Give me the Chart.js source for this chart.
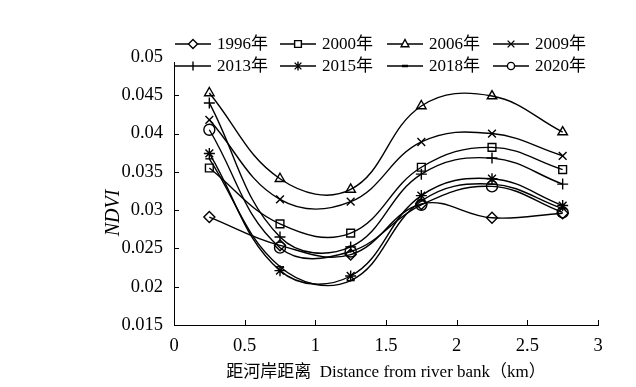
<!DOCTYPE html>
<html>
<head>
<meta charset="utf-8">
<style>
html,body{margin:0;padding:0;background:#fff;}
#wrap{width:636px;height:387px;position:relative;}
</style>
<script src="https://cdn.jsdelivr.net/npm/chart.js@4/dist/chart.umd.min.js"></script>
</head>
<body>
<div id="wrap"><canvas id="c" width="636" height="387"></canvas></div>
<script>
const distances = [0.25, 0.75, 1.25, 1.75, 2.25, 2.75];
const xTicks = [0, 0.5, 1, 1.5, 2, 2.5, 3];
const xTickLabels = ['0', '0.5', '1', '1.5', '2', '2.5', '3'];
const yTicks = [0.015, 0.02, 0.025, 0.03, 0.035, 0.04, 0.045, 0.05];
const yTickLabels = ['0.015', '0.02', '0.025', '0.03', '0.035', '0.04', '0.045', '0.05'];
const seriesNames = ['1996年', '2000年', '2006年', '2009年', '2013年', '2015年', '2018年', '2020年'];
const v1996 = [0.0291, 0.0254, 0.0242, 0.0308, 0.0290, 0.0296];
const v2000 = [0.0355, 0.0282, 0.0270, 0.0356, 0.0382, 0.0353];
const v2006 = [0.0453, 0.0341, 0.0327, 0.0436, 0.0449, 0.0402];
const v2009 = [0.0418, 0.0314, 0.0311, 0.0389, 0.0400, 0.0371];
const v2013 = [0.0440, 0.0265, 0.0252, 0.0347, 0.0368, 0.0334];
const v2015 = [0.0374, 0.0221, 0.0214, 0.0319, 0.0341, 0.0306];
const v2018 = [0.0367, 0.0226, 0.0208, 0.0312, 0.0334, 0.0302];
const v2020 = [0.0405, 0.0251, 0.0246, 0.0307, 0.0331, 0.0297];
const seriesValues = [v1996, v2000, v2006, v2009, v2013, v2015, v2018, v2020];
const markerStyles = ['rectRot', 'rect', 'triangle', 'crossRot', 'cross', 'star', 'line', 'circle'];
const xTitle = '距河岸距离  Distance from river bank（km）';
const yTitle = 'NDVI';

const FONT = "'Liberation Serif', 'Noto Sans CJK SC', serif";

const datasets = seriesNames.map((name, i) => ({
  label: name,
  data: distances.map((d, j) => ({x: d, y: seriesValues[i][j]})),
  borderColor: '#000',
  borderWidth: 1.4,
  backgroundColor: 'rgba(0,0,0,0)',
  pointStyle: markerStyles[i],
  pointRadius: markerStyles[i] === 'line' ? 4 : 5.5,
  pointBorderColor: '#000',
  pointBackgroundColor: 'rgba(0,0,0,0)',
  pointBorderWidth: 1.4,
  tension: 0.4,
  fill: false
}));

function drawMarker(ctx, style, x, y, r) {
  ctx.save();
  ctx.strokeStyle = '#000';
  ctx.lineWidth = 1.4;
  ctx.beginPath();
  if (style === 'rectRot') {
    ctx.moveTo(x, y - r); ctx.lineTo(x + r, y); ctx.lineTo(x, y + r); ctx.lineTo(x - r, y); ctx.closePath();
    ctx.fillStyle = '#fff'; ctx.fill();
  } else if (style === 'rect') {
    const s = r * 0.75; ctx.rect(x - s, y - s, 2 * s, 2 * s);
    ctx.fillStyle = '#fff'; ctx.fill();
  } else if (style === 'triangle') {
    ctx.moveTo(x, y - r); ctx.lineTo(x + r * 0.87, y + r * 0.6); ctx.lineTo(x - r * 0.87, y + r * 0.6); ctx.closePath();
    ctx.fillStyle = '#fff'; ctx.fill();
  } else if (style === 'crossRot') {
    const s = r * 0.75; ctx.moveTo(x - s, y - s); ctx.lineTo(x + s, y + s); ctx.moveTo(x + s, y - s); ctx.lineTo(x - s, y + s);
  } else if (style === 'cross') {
    ctx.moveTo(x, y - r); ctx.lineTo(x, y + r);
  } else if (style === 'star') {
    const s = r * 0.75; ctx.moveTo(x - s, y - s); ctx.lineTo(x + s, y + s); ctx.moveTo(x + s, y - s); ctx.lineTo(x - s, y + s);
    ctx.moveTo(x, y - r); ctx.lineTo(x, y + r);
  } else if (style === 'line') {
    ctx.lineWidth = 2.5; ctx.moveTo(x - 3, y); ctx.lineTo(x + 3, y);
  } else if (style === 'circle') {
    ctx.arc(x, y, r * 0.8, 0, Math.PI * 2);
    ctx.fillStyle = '#fff'; ctx.fill();
  }
  ctx.stroke();
  ctx.restore();
}

const customDecor = {
  id: 'customDecor',
  afterDraw(chart) {
    const ctx = chart.ctx;
    const xs = chart.scales.x, ys = chart.scales.y;
    const area = chart.chartArea;
    ctx.save();
    // inward ticks
    ctx.strokeStyle = '#000'; ctx.lineWidth = 1;
    ctx.beginPath();
    yTicks.forEach(v => { const py = Math.round(ys.getPixelForValue(v)) + 0.5; ctx.moveTo(area.left, py); ctx.lineTo(area.left + 5, py); });
    xTicks.forEach(v => { const px = Math.round(xs.getPixelForValue(v)) + 0.5; ctx.moveTo(px, area.bottom); ctx.lineTo(px, area.bottom - 5); });
    ctx.stroke();
    // y title
    ctx.save();
    ctx.translate(114, 213);
    ctx.rotate(-Math.PI / 2);
    ctx.font = "italic 20px " + FONT;
    ctx.fillStyle = '#000'; ctx.textAlign = 'center'; ctx.textBaseline = 'middle';
    ctx.fillText(yTitle, 0, 0);
    ctx.restore();
    // legend
    ctx.fillStyle = '#fff';
    ctx.fillRect(area.left - 1, 32, 430, 30);
    const cols = [175, 280, 387, 493];
    const rows = [44, 66];
    ctx.font = "17px " + FONT;
    ctx.textBaseline = 'middle'; ctx.textAlign = 'left';
    seriesNames.forEach((name, i) => {
      const x0 = cols[i % 4], y0 = rows[Math.floor(i / 4)];
      ctx.strokeStyle = '#000'; ctx.lineWidth = 1.4;
      ctx.beginPath(); ctx.moveTo(x0, y0); ctx.lineTo(x0 + 36, y0); ctx.stroke();
      drawMarker(ctx, markerStyles[i], x0 + 18, y0, 4.5);
      ctx.fillStyle = '#000';
      ctx.fillText(name, x0 + 42, y0 + 1);
    });
    ctx.restore();
  }
};

new Chart(document.getElementById('c'), {
  type: 'line',
  data: { datasets },
  options: {
    responsive: false,
    animation: false,
    layout: { padding: { top: 57, right: 38, left: 0, bottom: 0 } },
    plugins: { legend: { display: false }, tooltip: { enabled: false } },
    scales: {
      x: {
        type: 'linear', min: 0, max: 3,
        afterBuildTicks: s => { s.ticks = xTicks.map(v => ({ value: v })); },
        afterFit: s => { s.height = 62; },
        grid: { display: true, drawOnChartArea: false, drawTicks: false },
        border: { display: true, color: '#000', width: 1 },
        ticks: { color: '#000', font: { family: FONT, size: 18.5 }, padding: 10, maxRotation: 0,
          callback: (v, i) => xTickLabels[i] },
        title: { display: true, text: xTitle, color: '#000', font: { family: FONT, size: 17 }, padding: { top: 0, bottom: 4 } }
      },
      y: {
        min: 0.015, max: 0.05,
        afterBuildTicks: s => { s.ticks = yTicks.map(v => ({ value: v })); },
        afterFit: s => { s.width = 174; },
        grid: { display: true, drawOnChartArea: false, drawTicks: false },
        border: { display: true, color: '#000', width: 1 },
        ticks: { color: '#000', font: { family: FONT, size: 18.5 }, padding: 11,
          callback: (v, i) => yTickLabels[i] }
      }
    }
  },
  plugins: [customDecor]
});
</script>
</body>
</html>
